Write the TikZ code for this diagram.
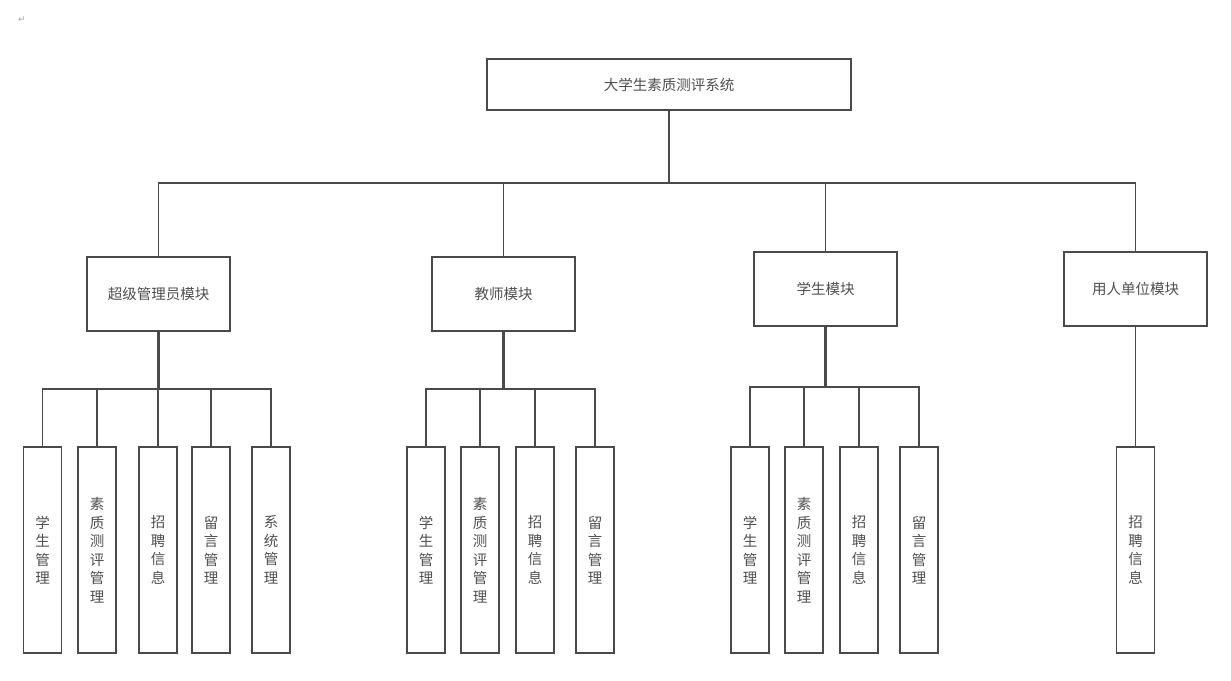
\documentclass[tikz,border=0pt]{standalone}
\usepackage{fontspec}
\newfontfamily\cjk{Noto Sans CJK SC}
\newfontfamily\dejavu{DejaVu Sans}
\definecolor{ln}{HTML}{4A4A4A}
\definecolor{tx}{HTML}{505050}
\tikzset{
  box/.style={draw=ln, line width=1.5pt, fill=white, text=tx, inner sep=0pt,
    font=\cjk\fontsize{14.5}{18.5}\selectfont, align=center},
  rootbox/.style={box, minimum width=364pt, minimum height=51pt},
  modbox/.style={box, minimum width=143pt, minimum height=74pt},
  leafbox/.style={box, minimum width=38pt, minimum height=206pt},
  conn/.style={draw=ln, line width=1.4pt},
  stem/.style={draw=ln, line width=2.3pt},
}
\begin{document}
\begin{tikzpicture}[x=1pt,y=-1pt]
\useasboundingbox[fill=white] (0,0) rectangle (1231,680);
\node[text=gray!70, font=\dejavu\fontsize{9}{9}\selectfont] (mark) at (22,20) {↵};

\node[rootbox] (root) at (669,84.5) {大学生素质测评系统};
\node[modbox] (m1) at (158.5,294) {超级管理员模块};
\node[modbox] (m2) at (503.5,294) {教师模块};
\node[modbox] (m3) at (825.5,289) {学生模块};
\node[modbox] (m4) at (1135.5,289) {用人单位模块};

% group 1
\node[leafbox] (a1) at (42.5,550) {学\\生\\管\\理};
\node[leafbox] (a2) at (97,550) {素\\质\\测\\评\\管\\理};
\node[leafbox] (a3) at (158,550) {招\\聘\\信\\息};
\node[leafbox] (a4) at (211,550) {留\\言\\管\\理};
\node[leafbox] (a5) at (271,550) {系\\统\\管\\理};
% group 2
\node[leafbox] (b1) at (426,550) {学\\生\\管\\理};
\node[leafbox] (b2) at (480,550) {素\\质\\测\\评\\管\\理};
\node[leafbox] (b3) at (535,550) {招\\聘\\信\\息};
\node[leafbox] (b4) at (595,550) {留\\言\\管\\理};
% group 3
\node[leafbox] (c1) at (750,550) {学\\生\\管\\理};
\node[leafbox] (c2) at (804,550) {素\\质\\测\\评\\管\\理};
\node[leafbox] (c3) at (859,550) {招\\聘\\信\\息};
\node[leafbox] (c4) at (919,550) {留\\言\\管\\理};
% group 4
\node[leafbox] (d1) at (1135.5,550) {招\\聘\\信\\息};

% top bus
\coordinate (ytop) at (0,183);
\coordinate (rb) at (root.south |- ytop);
\draw[stem] (root.south) -- (rb);
\draw[conn] (rb) -| (m1.north);
\draw[conn] (rb) -| (m2.north);
\draw[conn] (rb) -| (m3.north);
\draw[conn] (rb) -| (m4.north);

% group buses
\coordinate (y1) at (0,389);
\coordinate (y3) at (0,387);
\coordinate (g1) at (m1.south |- y1);
\coordinate (g2) at (m2.south |- y1);
\coordinate (g3) at (m3.south |- y3);
\draw[stem] (m1.south) -- (g1);
\draw[stem] (m2.south) -- (g2);
\draw[stem] (m3.south) -- (g3);
\foreach \n in {a1,a2,a3,a4,a5} \draw[conn] (g1) -| (\n.north);
\foreach \n in {b1,b2,b3,b4} \draw[conn] (g2) -| (\n.north);
\foreach \n in {c1,c2,c3,c4} \draw[conn] (g3) -| (\n.north);
\draw[conn] (m4.south) -- (d1.north);
\end{tikzpicture}
\end{document}
